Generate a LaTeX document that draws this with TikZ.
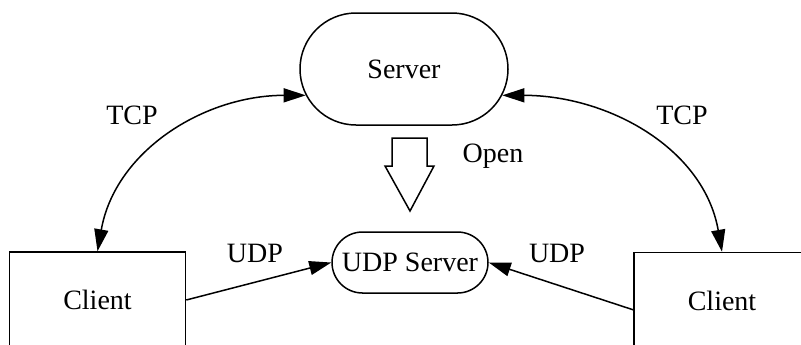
\documentclass[tikz,border=0pt]{standalone}
\usepackage{fontspec}
\setmainfont{Liberation Serif}
\usetikzlibrary{shapes.misc,arrows.meta}

\begin{document}
\begin{tikzpicture}[x=0.5pt, y=-0.5pt, line width=0.75pt, >={Triangle[length=11pt, width=7pt]}]
		\tikzstyle{every node}=[inner sep=1pt, align=center, font=\fontsize{14}{17}\selectfont]
		\tikzstyle{pill}=[draw, rounded rectangle]
		\tikzstyle{client}=[draw, minimum width=88pt, minimum height=48pt]
		\useasboundingbox (0, 0) rectangle (801, 344);
		\clip (0, 0) rectangle (801, 344);
		\node[pill, minimum width=106pt, minimum height=56pt] (srv) at (404, 69) {Server};
		\node[pill, minimum width=80pt, minimum height=30.5pt] (udp) at (410, 262.5) {UDP Server};
		\node[client] (c1) at (97.5, 300) {Client};
		\node[client] (c2) at (722, 300.5) {Client};
		\draw [<->] (srv.195) to[out=180, in=80] (c1.north);
		\draw [<->] (srv.345) to[out=0, in=100] (c2.north);
		\draw [->] (c1.east) -- (udp.west);
		\draw [->] (c2.186) -- (udp.east);
		% open arrow
		\draw (392, 138) -- (427, 138) -- (427, 166) -- (434, 166) -- (410, 211) -- (385, 166) -- (392, 166) -- cycle;
		\node (open) at (493, 156) {Open};
		\node (tcp1) at (132, 115) {TCP};
		\node (tcp2) at (682, 115) {TCP};
		\node (udp1) at (255, 253) {UDP};
		\node (udp2) at (557, 253) {UDP};
\end{tikzpicture}
\end{document}
